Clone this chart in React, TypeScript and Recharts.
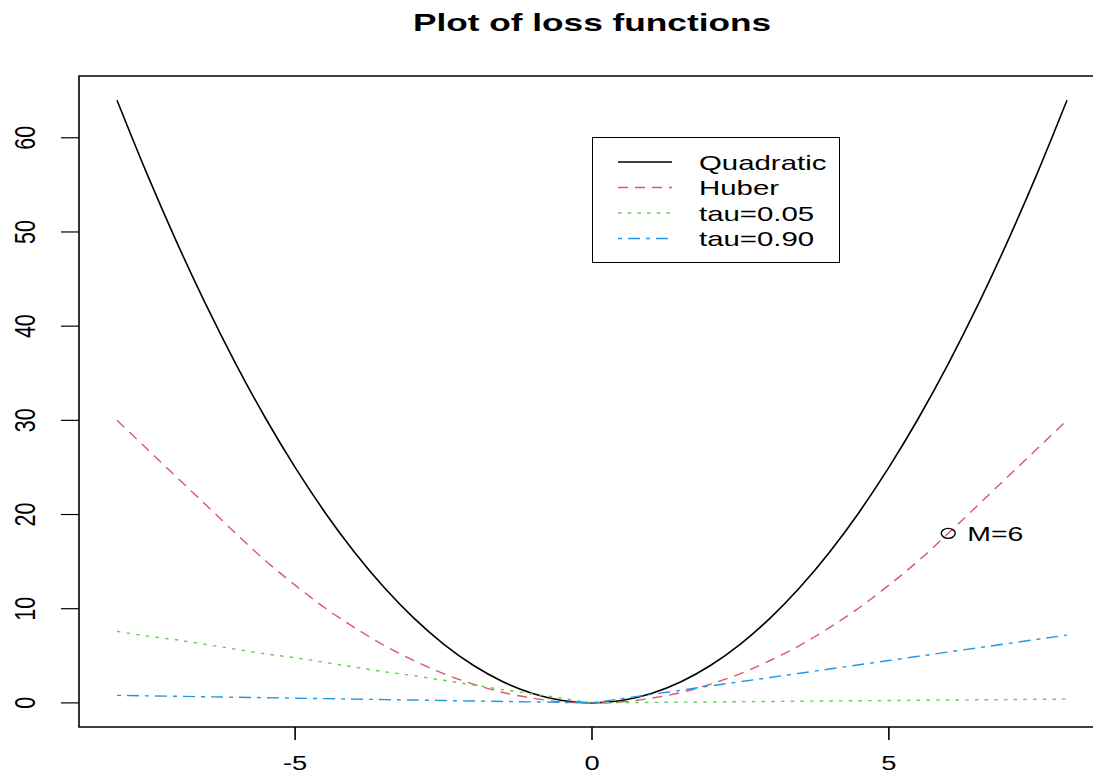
import { LineChart, Line, XAxis, YAxis, ReferenceArea, ReferenceDot } from "recharts";

// x grid the curves were read at
const xValues = [
  -8, -7.5, -7, -6.5, -6, -5.5, -5, -4.5, -4, -3.5, -3, -2.5, -2, -1.5, -1, -0.5,
  0, 0.5, 1, 1.5, 2, 2.5, 3, 3.5, 4, 4.5, 5, 5.5, 6, 6.5, 7, 7.5, 8,
];
const quadratic = [
  64, 56.25, 49, 42.25, 36, 30.25, 25, 20.25, 16, 12.25, 9, 6.25, 4, 2.25, 1, 0.25,
  0, 0.25, 1, 2.25, 4, 6.25, 9, 12.25, 16, 20.25, 25, 30.25, 36, 42.25, 49, 56.25, 64,
];
const huber = [
  30, 27, 24, 21, 18, 15.1, 12.5, 10.1, 8, 6.1, 4.5, 3.1, 2, 1.1, 0.5, 0.1,
  0, 0.1, 0.5, 1.1, 2, 3.1, 4.5, 6.1, 8, 10.1, 12.5, 15.1, 18, 21, 24, 27, 30,
];
const tau05 = [
  7.6, 7.1, 6.7, 6.2, 5.7, 5.2, 4.8, 4.3, 3.8, 3.3, 2.9, 2.4, 1.9, 1.4, 0.95, 0.5,
  0, 0.03, 0.05, 0.08, 0.1, 0.13, 0.15, 0.18, 0.2, 0.23, 0.25, 0.28, 0.3, 0.33, 0.35, 0.38, 0.4,
];
const tau90 = [
  0.8, 0.75, 0.7, 0.65, 0.6, 0.55, 0.5, 0.45, 0.4, 0.35, 0.3, 0.25, 0.2, 0.15, 0.1, 0.05,
  0, 0.45, 0.9, 1.35, 1.8, 2.25, 2.7, 3.15, 3.6, 4.05, 4.5, 4.95, 5.4, 5.85, 6.3, 6.75, 7.2,
];
const xTicks = [-5, 0, 5];
const yTicks = [0, 10, 20, 30, 40, 50, 60];
const annotation = { x: 6, y: 18, label: "M=6" };

const FONT = "'Liberation Sans', Arial, Helvetica, sans-serif";

const series = [
  { key: "quadratic", name: "Quadratic", color: "#000000", dash: undefined, width: 1.6, type: "monotone" },
  { key: "huber", name: "Huber", color: "#DF536B", dash: "10 7", width: 1.4, type: "monotone" },
  { key: "tau05", name: "tau=0.05", color: "#61D04F", dash: "3.5 6.2", width: 1.4, type: "linear" },
  { key: "tau90", name: "tau=0.90", color: "#2297E6", dash: "4 6 12 6", width: 1.4, type: "linear" },
];

const rows = xValues.map((x, i) => ({
  x,
  quadratic: quadratic[i],
  huber: huber[i],
  tau05: tau05[i],
  tau90: tau90[i],
}));

function YTick({ x, y, payload }: any) {
  return (
    <text
      transform={`translate(${x - 35}, ${y}) scale(1.4, 1) rotate(-90)`}
      textAnchor="middle"
      dy="0.36em"
      fontSize={21.5}
      fontFamily={FONT}
      fill="#000"
    >
      {payload.value}
    </text>
  );
}

function XTick({ x, y, payload }: any) {
  // baseline kept a little above the bottom edge so descenders stay inside
  return (
    <text
      transform={`translate(${x}, ${y + 28}) scale(1.3, 1)`}
      textAnchor="middle"
      fontSize={21}
      fontFamily={FONT}
      fill="#000"
    >
      {payload.value}
    </text>
  );
}

function MarkShape({ cx, cy }: any) {
  return (
    <g>
      <ellipse cx={cx} cy={cy} rx={7} ry={5} fill="none" stroke="#000" strokeWidth={1.4} />
      <text
        transform={`translate(${cx + 19}, ${cy + 8}) scale(1.42, 1)`}
        fontSize={20}
        fontFamily={FONT}
        fill="#000"
      >
        {annotation.label}
      </text>
    </g>
  );
}

function LossLegend() {
  return (
    <div
      style={{
        position: "absolute",
        left: 592,
        top: 137,
        width: 248,
        height: 126,
        boxSizing: "border-box",
        border: "1.5px solid #000",
        background: "#fff",
      }}
    >
      <svg width={246} height={124} style={{ display: "block" }}>
        {series.map((s, i) => {
          const cy = 24 + i * 25.5;
          return (
            <g key={s.key}>
              <line x1={25} x2={79} y1={cy} y2={cy} stroke={s.color} strokeWidth={1.4} strokeDasharray={s.dash} />
              <text
                transform={`translate(106, ${cy}) scale(1.4, 1)`}
                dy="0.36em"
                fontSize={21}
                fontFamily={FONT}
                fill="#000"
              >
                {s.name}
              </text>
            </g>
          );
        })}
      </svg>
    </div>
  );
}

export default function App() {
  return (
    <div style={{ position: "absolute", left: 0, top: 0, width: 1093, height: 775, overflow: "hidden", background: "#fff" }}>
      <svg width={1093} height={50} style={{ position: "absolute", left: 0, top: 0 }}>
        <text
          transform="translate(592, 31) scale(1.5, 1)"
          textAnchor="middle"
          fontSize={23.5}
          fontWeight="bold"
          fontFamily={FONT}
          fill="#000"
        >
          Plot of loss functions
        </text>
      </svg>
      <div style={{ position: "absolute", left: 0, top: 0 }}>
        <LineChart width={1110} height={775} data={rows} margin={{ top: 76, right: 5, bottom: 0, left: 0 }}>
          <XAxis
            dataKey="x"
            type="number"
            domain={[-8.64, 8.64]}
            ticks={xTicks}
            height={48}
            axisLine={false}
            tickSize={13}
            tickLine={{ stroke: "#000", strokeWidth: 1.6 }}
            tick={<XTick />}
            interval={0}
          />
          <YAxis
            type="number"
            domain={[-2.56, 66.56]}
            ticks={yTicks}
            width={79}
            axisLine={false}
            tickSize={18}
            tickLine={{ stroke: "#000", strokeWidth: 1.2 }}
            tick={<YTick />}
            interval={0}
          />
          <ReferenceArea
            x1={-8.64}
            x2={8.64}
            y1={-2.56}
            y2={66.56}
            fill="none"
            fillOpacity={0}
            stroke="#000"
            strokeWidth={1.6}
            ifOverflow="visible"
          />
          {series.map((s) => (
            <Line
              key={s.key}
              dataKey={s.key}
              name={s.name}
              type={s.type as any}
              stroke={s.color}
              strokeWidth={s.width}
              strokeDasharray={s.dash}
              dot={false}
              activeDot={false}
              isAnimationActive={false}
            />
          ))}
          <ReferenceDot x={annotation.x} y={annotation.y} r={5} shape={<MarkShape />} ifOverflow="visible" />
        </LineChart>
      </div>
      <LossLegend />
    </div>
  );
}
